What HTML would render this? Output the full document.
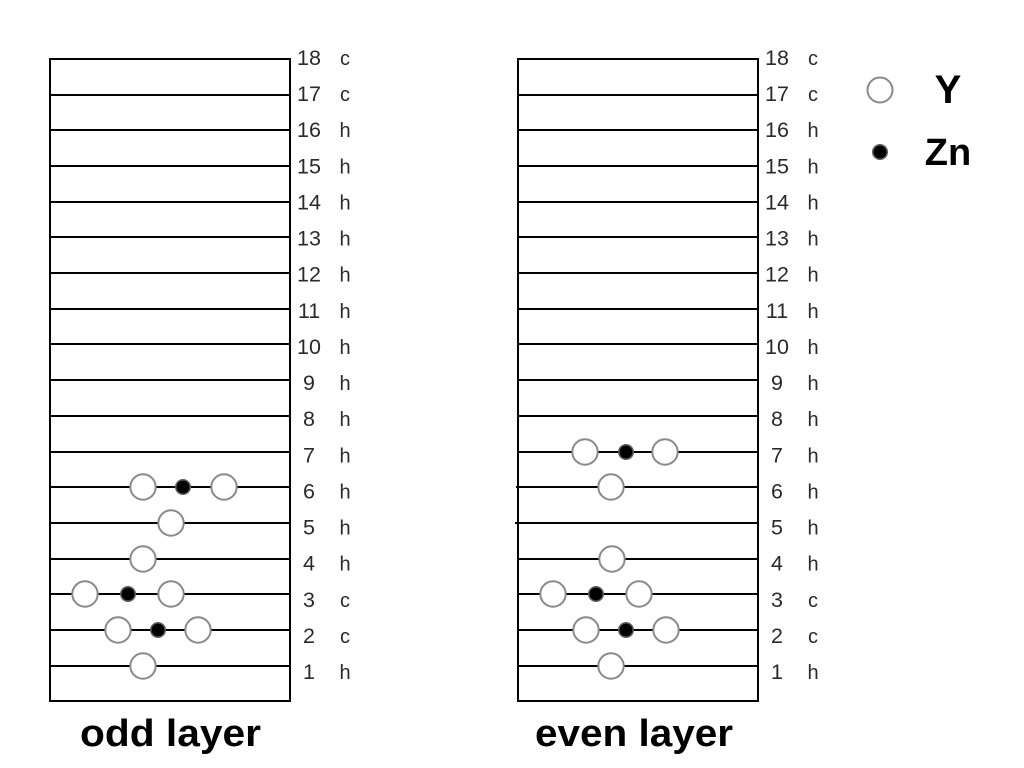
<!DOCTYPE html>
<html>
<head>
<meta charset="utf-8">
<title>Odd and even layer stacking</title>
<style>
html,body{margin:0;padding:0;background:#fff;width:1024px;height:768px;overflow:hidden}
svg{display:block}
text{font-family:"Liberation Sans","Noto Sans CJK JP",sans-serif}
</style>
</head>
<body>
<svg id="chart" xmlns="http://www.w3.org/2000/svg" width="1024" height="768" viewBox="0 0 1024 768">
  <g id="panels"></g>
  <g>
    <circle cx="880" cy="90" r="12.5" fill="#fff" stroke="#8a8a8a" stroke-width="2"/>
    <text x="948" y="103" font-size="40" font-weight="bold" text-anchor="middle" fill="#000">Y</text>
    <circle cx="880" cy="152" r="7.2" fill="#000" stroke="#5a5a5a" stroke-width="1.6"/>
    <text x="948" y="165" font-size="38" font-weight="bold" text-anchor="middle" fill="#000">Zn</text>
  </g>
</svg>
<script>
const layerNumbers = [1, 2, 3, 4, 5, 6, 7, 8, 9, 10, 11, 12, 13, 14, 15, 16, 17, 18];
const stackingLetters = ['h', 'c', 'c', 'h', 'h', 'h', 'h', 'h', 'h', 'h', 'h', 'h', 'h', 'h', 'h', 'h', 'c', 'c'];
const oddY = [[1, 93], [2, 68], [2, 148], [3, 35], [3, 121], [4, 93], [5, 121], [6, 93], [6, 174]];
const oddZn = [[2, 108], [3, 78], [6, 133]];
const evenY = [[1, 93], [2, 68], [2, 148], [3, 35], [3, 121], [4, 94], [6, 93], [7, 67], [7, 147]];
const evenZn = [[2, 108], [3, 78], [7, 108]];

const NS = 'http://www.w3.org/2000/svg';
const root = document.getElementById('panels');
const yLine = function (n) { return Math.round(665.8 - (n - 1) * 35.7); };
const yLabel = function (n) { return 65 + (18 - n) * 36.12; };
const panelWidth = 240;
const frameBottom = 701;

function make(parent, tag, attrs, text) {
  const el = document.createElementNS(NS, tag);
  for (const k in attrs) el.setAttribute(k, attrs[k]);
  if (text !== undefined) el.textContent = text;
  parent.appendChild(el);
  return el;
}

function drawPanel(key, left, title, titleX, titleLen, yAtoms, znAtoms, tickLayers) {
  const g = make(root, 'g', {});
  
  
  const xAt = function (v) { return left + v; };

  const frame = make(g, 'rect', { x: left, y: yLine(18), width: panelWidth, height: frameBottom - yLine(18), fill: 'none', stroke: '#000', 'stroke-width': 2 });
  
  

  layerNumbers.forEach(function (n, i) {
    const overhang = tickLayers.indexOf(n) >= 0 ? (n === 5 ? 3 : 2) : 0;
    const line = make(g, 'line', { x1: left - overhang, x2: left + panelWidth, y1: yLine(n), y2: yLine(n), stroke: '#000', 'stroke-width': 2 });
    
    

    const num = make(g, 'text', { x: xAt(259), y: yLabel(n), 'font-size': 21.5, 'text-anchor': 'middle', fill: '#2a2a2a' }, String(n));
    
    

    const letter = make(g, 'text', { x: xAt(295), y: yLabel(n), 'font-size': 20, 'text-anchor': 'middle', fill: '#2a2a2a' }, stackingLetters[i]);
    
    
  });

  yAtoms.forEach(function (a) {
    const c = make(g, 'circle', { cx: xAt(a[1]), cy: yLine(a[0]), r: 12.7, fill: '#fff', stroke: '#8a8a8a', 'stroke-width': 2 });
    
    
  });
  znAtoms.forEach(function (a) {
    const c = make(g, 'circle', { cx: xAt(a[1]), cy: yLine(a[0]), r: 7.2, fill: '#000', stroke: '#5a5a5a', 'stroke-width': 1.6 });
    
    
  });

  const t = make(g, 'text', { x: titleX, y: 746, 'font-size': 38, 'font-weight': 'bold', fill: '#000', textLength: titleLen, lengthAdjust: 'spacingAndGlyphs' }, title);
  
  
}

drawPanel('odd', 50, 'odd layer', 80, 181, oddY, oddZn, []);
drawPanel('even', 518, 'even layer', 535, 198, evenY, evenZn, [5, 6]);
</script>
</body>
</html>
